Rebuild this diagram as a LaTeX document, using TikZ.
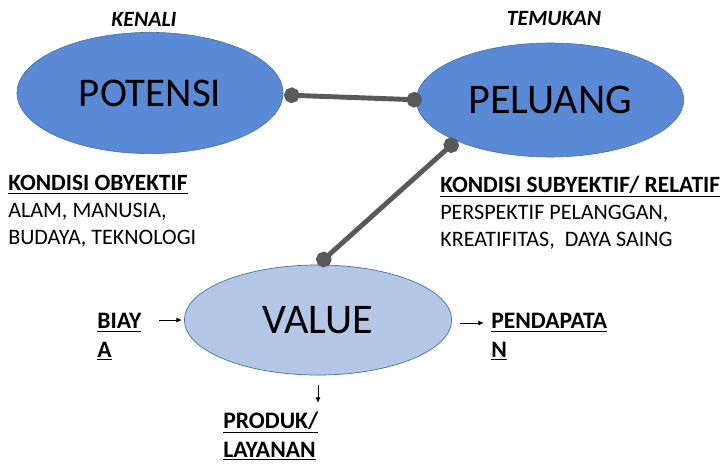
\documentclass[tikz,border=0pt]{standalone}
\usepackage{fontspec}
\setmainfont{Carlito}
\usetikzlibrary{arrows.meta,positioning,shapes.geometric,calc}
\definecolor{ovalblue}{HTML}{5A8AD6}
\definecolor{ovalline}{HTML}{41719C}
\definecolor{ovallight}{HTML}{B4C7E7}
\definecolor{linkgray}{HTML}{595959}

\begin{document}
\begin{tikzpicture}[
  x=0.025cm, y=-0.025cm,
  oval/.style={ellipse, draw=ovalline, fill=ovalblue, inner sep=0pt, font=\fontsize{30}{30}\selectfont},
  lightoval/.style={oval, fill=ovallight, line width=0.5pt},
  note/.style={anchor=base west, align=left, inner sep=0pt, font=\fontsize{15.7}{18.9}\selectfont},
  keyword/.style={anchor=base west, align=left, inner sep=0pt, font=\fontsize{16.8}{20}\selectfont\bfseries},
  tag/.style={font=\fontsize{15.5}{16}\selectfont\bfseries\itshape},
  link/.style={{Circle[length=11pt]}-{Circle[length=11pt]}, line width=3.5pt, draw=linkgray},
  flow/.style={-{Latex[length=4pt,width=3.5pt]}, line width=0.7pt}
]
\useasboundingbox (0,0) rectangle (724,467);

\node[oval, minimum width=6.65cm, minimum height=3.03cm, font=\fontsize{29}{29}\selectfont] (pot) at (150,93) {POTENSI};
\node[oval, minimum width=6.68cm, minimum height=2.85cm] (pel) at (550,100) {PELUANG};
\node[lightoval, minimum width=6.68cm, minimum height=2.75cm] (val) at (318,320) {VALUE};

\node[tag] (kenali) at (144,19) {KENALI};
\node[tag] (temukan) at (554,19) {TEMUKAN};

% kondisi
\node[note] (obj) at (8,244) {{\fontsize{16.6}{18.9}\selectfont\bfseries\underline{KONDISI OBYEKTIF}}\\ALAM, MANUSIA,\\BUDAYA, TEKNOLOGI};
\node[note] (subj) at (440,246) {{\fontsize{16.6}{18.9}\selectfont\bfseries\underline{KONDISI SUBYEKTIF/ RELATIF}}\\PERSPEKTIF PELANGGAN,\\KREATIFITAS,\ \ DAYA SAING};

% input dan output
\node[keyword] (biaya) at (97,357) {\underline{BIAY}\\\underline{A}};
\node[keyword] (pendapatan) at (491,357) {\underline{PENDAPATA}\\\underline{N}};
\node[keyword] (produk) at (223,457) {\underline{PRODUK/}\\\underline{LAYANAN}};

\draw[link] ($(pot.center)+(134,2)$) -- ($(pel.center)+(-128,0)$);
\draw[link] ($(pel.center)+(-93,40)$) -- (val.north);

\coordinate (biayastart) at (159,320);
\coordinate (biayaend) at (182,320);
\coordinate (pendstart) at (460,323);
\coordinate (pendend) at (484,323);
\coordinate (produkstart) at (318,385);
\coordinate (produkend) at (318,403);
\draw[flow] (biayastart) -- (biayaend);
\draw[flow] (pendstart) -- (pendend);
\draw[flow] (produkstart) -- (produkend);
\end{tikzpicture}
\end{document}
